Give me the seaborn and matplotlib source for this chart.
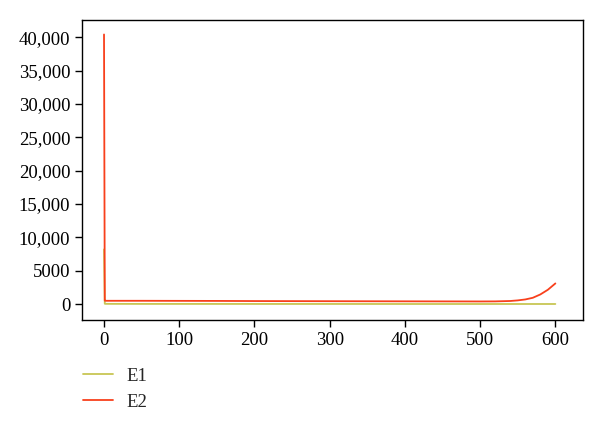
import numpy as np
import pandas as pd
import matplotlib
matplotlib.use("Agg")
import matplotlib.pyplot as plt
import matplotlib.ticker as mticker
import seaborn as sns

# values
x_e1 = [0, 1, 2, 50, 100, 200, 300, 400, 500, 600]
e1 = [8200, 60, 40, 30, 30, 25, 25, 20, 20, 20]

x_e2 = [0, 1, 2, 50, 100, 150, 200, 300, 400, 500, 520, 540, 550, 560, 570, 580, 590, 600]
e2 = [40400, 520, 500, 500, 490, 480, 460, 440, 420, 400, 410, 470, 560, 700, 950, 1450, 2150, 3100]

df = pd.concat([
    pd.DataFrame({"t": x_e1, "value": e1, "series": "E1"}),
    pd.DataFrame({"t": x_e2, "value": e2, "series": "E2"}),
])

sns.set_style("ticks")
plt.rcParams["font.family"] = ["Liberation Serif", "DejaVu Serif"]

fig = plt.figure(figsize=(6, 4.28), dpi=100)
ax = fig.add_axes([0.137, 0.252, 0.835, 0.701])

palette = {"E1": "#c8c654", "E2": "#f8401c"}
sns.lineplot(data=df, x="t", y="value", hue="series", palette=palette,
             linewidth=1.3, ax=ax, legend=False)

ax.set_xlim(-29, 637)
ax.set_ylim(-2400, 42550)
ax.set_xticks([0, 100, 200, 300, 400, 500, 600])
ax.set_yticks(np.arange(0, 40001, 5000))
ax.yaxis.set_major_formatter(mticker.FuncFormatter(
    lambda v, p: f"{int(v):,}" if v >= 10000 else f"{int(v)}"))
ax.set_xlabel("")
ax.set_ylabel("")
ax.tick_params(labelsize=13.5, length=5, width=1, colors="black")
for s in ax.spines.values():
    s.set_visible(True)
    s.set_color("black")
    s.set_linewidth(1)

handles = [plt.Line2D([], [], color=palette[k], lw=1.3) for k in ["E1", "E2"]]
fig.legend(handles, ["E1", "E2"], loc="upper left", bbox_to_anchor=(0.125, 0.158),
           frameon=False, fontsize=13.5, handlelength=1.65, handletextpad=0.7,
           labelspacing=0.45, borderaxespad=0)

fig.savefig("out.png", dpi=100)
